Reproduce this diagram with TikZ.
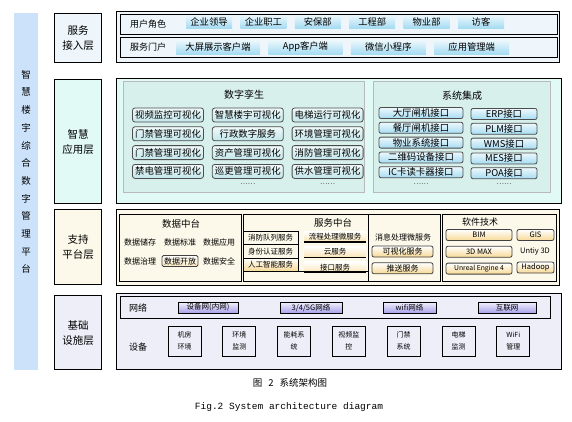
\documentclass[tikz,border=0pt]{standalone}
\usepackage{fontspec}
\setmainfont{Noto Sans CJK SC}
\newfontfamily\capmono{Liberation Mono}
\usetikzlibrary{positioning}

\definecolor{barblue}{HTML}{CCE2FA}
\definecolor{topblue}{HTML}{EEF6FB}
\definecolor{appmint}{HTML}{E2FAF5}
\definecolor{panelmint}{HTML}{D8F0EC}
\definecolor{supcream}{HTML}{FDF9EA}
\definecolor{inflav}{HTML}{EEEEF9}
\definecolor{chipblue}{HTML}{A6DCF2}
\definecolor{chipteal}{HTML}{C2E6EA}
\definecolor{chipyellow}{HTML}{F7D995}
\definecolor{chippurple}{HTML}{A9A2EA}

\begin{document}
\begin{tikzpicture}[
        x=1pt, y=-1pt,
        node distance=4pt and 8pt,
        font=\fontsize{9}{11}\selectfont,
        bar/.style={rectangle, fill=barblue, anchor=north west, inner sep=0pt},
        layer/.style={rectangle, draw, line width=1.2pt, align=center, anchor=north west, inner sep=0pt, minimum width=47pt, font=\fontsize{10.5}{15}\selectfont},
        frame/.style={rectangle, draw, line width=1.2pt, anchor=north west, inner sep=0pt},
        panel/.style={rectangle, draw=gray!55, line width=0.8pt, fill=panelmint, anchor=north west, inner sep=0pt, minimum height=111pt},
        subpanel/.style={rectangle, draw, line width=0.8pt, anchor=north west, inner sep=0pt, minimum height=67pt},
        uchip/.style={rectangle, inner sep=0pt, minimum width=46pt, minimum height=13pt, top color=chipblue!20, bottom color=chipblue, font=\fontsize{9.3}{11}\selectfont},
        tchip/.style={rectangle, rounded corners=2.5pt, draw=black!70, line width=0.8pt, inner sep=0pt, minimum width=71pt, minimum height=14pt, top color=chipteal!25, bottom color=chipteal, font=\fontsize{9.4}{11}\selectfont},
        schip/.style={rectangle, rounded corners=2pt, draw=black!70, line width=0.8pt, inner sep=0pt, minimum height=11pt, top color=chipblue!20, bottom color=chipblue, font=\fontsize{9.4}{11}\selectfont},
        ychip/.style={rectangle, rounded corners=2pt, draw=black!75, line width=0.8pt, inner sep=0pt, minimum height=11pt, top color=white, bottom color=chipyellow, font=\fontsize{7.5}{9}\selectfont},
        pchip/.style={rectangle, draw, line width=0.8pt, inner sep=0pt, minimum height=11pt, top color=chippurple!15, bottom color=chippurple, font=\fontsize{7.5}{9}\selectfont},
        cell/.style={rectangle, draw, line width=0.8pt, outer sep=0pt, inner sep=0pt, minimum width=55pt, minimum height=13.5pt, font=\fontsize{7.5}{9}\selectfont},
        ycell/.style={rectangle, inner sep=0pt, minimum width=62pt, minimum height=11pt, top color=white, bottom color=chipyellow!70, font=\fontsize{7.5}{9}\selectfont,
            path picture={\draw[line width=1.6pt] (path picture bounding box.south west) -- (path picture bounding box.south east);}},
        dev/.style={rectangle, draw, line width=0.8pt, align=center, inner sep=0pt, minimum width=33pt, minimum height=30pt, font=\fontsize{7}{12}\selectfont},
        small/.style={font=\fontsize{8}{10}\selectfont},
        dots/.style={font=\fontsize{7}{8}\selectfont}
    ]
    \useasboundingbox (0,0) rectangle (572,421);

    % Side bar
    \node (sideBar) [bar, minimum width=24pt, minimum height=357pt] at (14,13) {};
    \node (sideText) [align=center, font=\fontsize{9.5}{17.7}\selectfont] at (26,172) {智\\慧\\楼\\宇\\综\\合\\数\\字\\管\\理\\平\\台};

    % Layer labels
    \node (lAccess) [layer, fill=topblue, minimum height=49pt] at (54,13) {服务\\接入层};
    \node (lApp) [layer, fill=appmint, minimum height=124pt] at (54,79) {智慧\\应用层};
    \node (lSup) [layer, fill=supcream, minimum height=75pt] at (54,209) {支持\\平台层};
    \node (lInf) [layer, fill=inflav, minimum height=74pt] at (54,295) {基础\\设施层};

    % Access layer
    \node (fAccess) [frame, fill=topblue, minimum width=443pt, minimum height=51pt] at (116,11) {};
    \node (rRole) [frame, minimum width=437pt, minimum height=20pt] at (120,14) {};
    \node (rPortal) [frame, minimum width=437pt, minimum height=20pt] at (120,37) {};
    \node (tRole) at (148,24) {用户角色};
    \node (tPortal) at (148,47) {服务门户};
    \node (role1) [uchip] at (209,21.5) {企业领导};
    \node (role2) [uchip, right=of role1] {企业职工};
    \node (role3) [uchip, right=of role2] {安保部};
    \node (role4) [uchip, right=of role3] {工程部};
    \node (role5) [uchip, right=of role4] {物业部};
    \node (role6) [uchip, right=of role5] {访客};
    \node (port1) [uchip, minimum width=84pt, minimum height=14pt] at (218,47) {大屏展示客户端};
    \node (port2) [uchip, minimum width=74pt, minimum height=14pt, right=of port1] {App客户端};
    \node (port3) [uchip, minimum width=75pt, minimum height=14pt, right=of port2] {微信小程序};
    \node (port4) [uchip, minimum width=75pt, minimum height=14pt, right=of port3] {应用管理端};

    % Application layer
    \node (fApp) [frame, fill=appmint, minimum width=445pt, minimum height=125pt] at (116,78) {};
    \node (pTwin) [panel, minimum width=241pt] at (123,81) {};
    \node (pSys) [panel, minimum width=177pt] at (373,81) {};
    \node (tTwin) [font=\fontsize{10}{12}\selectfont] at (244,95) {数字孪生};
    \node (tSys) [font=\fontsize{10}{12}\selectfont] at (462,96) {系统集成};

    \node (tw11) [tchip] at (168,115) {视频监控可视化};
    \node (tw21) [tchip, below=of tw11] {门禁管理可视化};
    \node (tw31) [tchip, below=of tw21] {门禁管理可视化};
    \node (tw41) [tchip, below=of tw31] {禁电管理可视化};
    \node (tw12) [tchip, right=of tw11] {智慧楼宇可视化};
    \node (tw22) [tchip, below=of tw12] {行政数字服务};
    \node (tw32) [tchip, below=of tw22] {资产管理可视化};
    \node (tw42) [tchip, below=of tw32] {巡更管理可视化};
    \node (tw13) [tchip, right=of tw12] {电梯运行可视化};
    \node (tw23) [tchip, below=of tw13] {环境管理可视化};
    \node (tw33) [tchip, below=of tw23] {消防管理可视化};
    \node (tw43) [tchip, below=of tw33] {供水管理可视化};
    \node (twDot2) [dots, below=1pt of tw42] {……};
    \node (twDot3) [dots, below=1pt of tw43] {……};

    \node (sy1) [schip, minimum width=84pt] at (421,113) {大厅闸机接口};
    \node (sy2) [schip, minimum width=84pt, below=3pt of sy1] {餐厅闸机接口};
    \node (sy3) [schip, minimum width=84pt, below=3pt of sy2] {物业系统接口};
    \node (sy4) [schip, minimum width=84pt, below=3pt of sy3] {二维码设备接口};
    \node (sy5) [schip, minimum width=84pt, below=3pt of sy4] {IC卡读卡器接口};
    \node (ex1) [schip, minimum width=66pt] at (504,114) {ERP接口};
    \node (ex2) [schip, minimum width=66pt, below=3pt of ex1] {PLM接口};
    \node (ex3) [schip, minimum width=66pt, below=3pt of ex2] {WMS接口};
    \node (ex4) [schip, minimum width=66pt, below=3pt of ex3] {MES接口};
    \node (ex5) [schip, minimum width=66pt, below=3pt of ex4] {POA接口};
    \node (syDot) [dots, below=2pt of sy5] {……};
    \node (exDot) [dots, below=1pt of ex5] {……};

    % Support layer
    \node (fSup) [frame, fill=supcream, minimum width=443pt, minimum height=76pt] at (116,209) {};
    \node (pData) [subpanel, minimum width=122pt] at (119,214) {};
    \node (pSvc) [subpanel, minimum width=197pt] at (243,214) {};
    \node (pMsg) [subpanel, minimum width=72pt] at (368,214) {};
    \node (pSoft) [subpanel, minimum width=114pt] at (442,214) {};

    \node (tData) [font=\fontsize{9.5}{11}\selectfont] at (181,224) {数据中台};
    \node (d1) [small] at (140,242) {数据储存};
    \node (d2) [small] at (180,242) {数据标准};
    \node (d3) [small] at (219,242) {数据应用};
    \node (d4) [small] at (140,261) {数据治理};
    \node (d5) [small, draw=black!75, rounded corners=1.5pt, line width=0.8pt, inner sep=0pt, minimum width=36pt, minimum height=11pt, top color=white, bottom color=chipyellow!60] at (180,261) {数据开放};
    \node (d6) [small] at (219,261) {数据安全};

    \node (tSvc) [font=\fontsize{9.5}{11}\selectfont] at (333,223) {服务中台};
    \node (cA) [cell, anchor=north west] at (243,231) {消防队列服务};
    \node (cB) [cell, below=0pt of cA] {身份认证服务};
    \node (cC) [cell, below=0pt of cB, top color=white, bottom color=chipyellow] {人工智能服务};
    \node (yA) [ycell] at (335,236.5) {流程处理微服务};
    \node (yB) [ycell, below=4pt of yA] {云服务};
    \node (yC) [ycell, below=4pt of yB] {接口服务};
    \draw [line width=0.8pt] (cC.south west) -- (cC.south west -| pMsg.west);

    \node (tMsg) [small] at (403,237) {消息处理微服务};
    \node (m1) [ychip, minimum width=61pt, font=\fontsize{8}{10}\selectfont] at (402.5,251.5) {可视化服务};
    \node (m2) [ychip, minimum width=61pt, font=\fontsize{8}{10}\selectfont, below=5pt of m1] {推送服务};

    \node (tSoft) at (480,222) {软件技术};
    \node (sw1) [ychip, minimum width=66pt] at (479,235) {BIM};
    \node (sw2) [ychip, minimum width=37pt] at (535.5,235) {GIS};
    \node (sw3) [ychip, minimum width=66pt, below=5pt of sw1] {3D MAX};
    \node (sw4) [font=\fontsize{7.5}{9}\selectfont] at (535,251) {Untiy 3D};
    \node (sw5) [ychip, minimum width=66pt, font=\fontsize{6.8}{8}\selectfont, below=5pt of sw3] {Unreal Engine 4};
    \node (sw6) [ychip, minimum width=37pt] at (535.5,267.5) {Hadoop};

    % Infrastructure layer
    \node (fInf) [frame, fill=inflav, minimum width=445pt, minimum height=76pt] at (116,293) {};
    \node (rNet) [frame, minimum width=430pt, minimum height=22pt] at (120,296) {};
    \node (tNet) at (138,308) {网络};
    \node (tDev) at (138,347) {设备};
    \node (n1) [pchip, minimum width=60pt] at (208,307.5) {设备网(内网)};
    \node (n2) [pchip, minimum width=62pt] at (311,307.5) {3/4/5G网络};
    \node (n3) [pchip, minimum width=53pt] at (409.5,307.5) {wifi网络};
    \node (n4) [pchip, minimum width=58pt] at (507,307.5) {互联网};

    \node (e1) [dev] at (184.5,341) {机房\\环境};
    \node (e2) [dev, right=21pt of e1] {环境\\监测};
    \node (e3) [dev, right=21pt of e2] {能耗系\\统};
    \node (e4) [dev, right=21pt of e3] {视频监\\控};
    \node (e5) [dev, right=21pt of e4] {门禁\\系统};
    \node (e6) [dev, right=21pt of e5] {电梯\\监测};
    \node (e7) [dev, right=21pt of e6] {WiFi\\管理};

    % Caption
    \node (capZh) [font=\fontsize{9.5}{11}\selectfont] at (290,383) {图\hspace{6pt}2\hspace{6pt}系统架构图};
    \node (capEn) [font=\capmono\fontsize{9.5}{11}\selectfont] at (289,407) {Fig.2 System architecture diagram};

\end{tikzpicture}
\end{document}
